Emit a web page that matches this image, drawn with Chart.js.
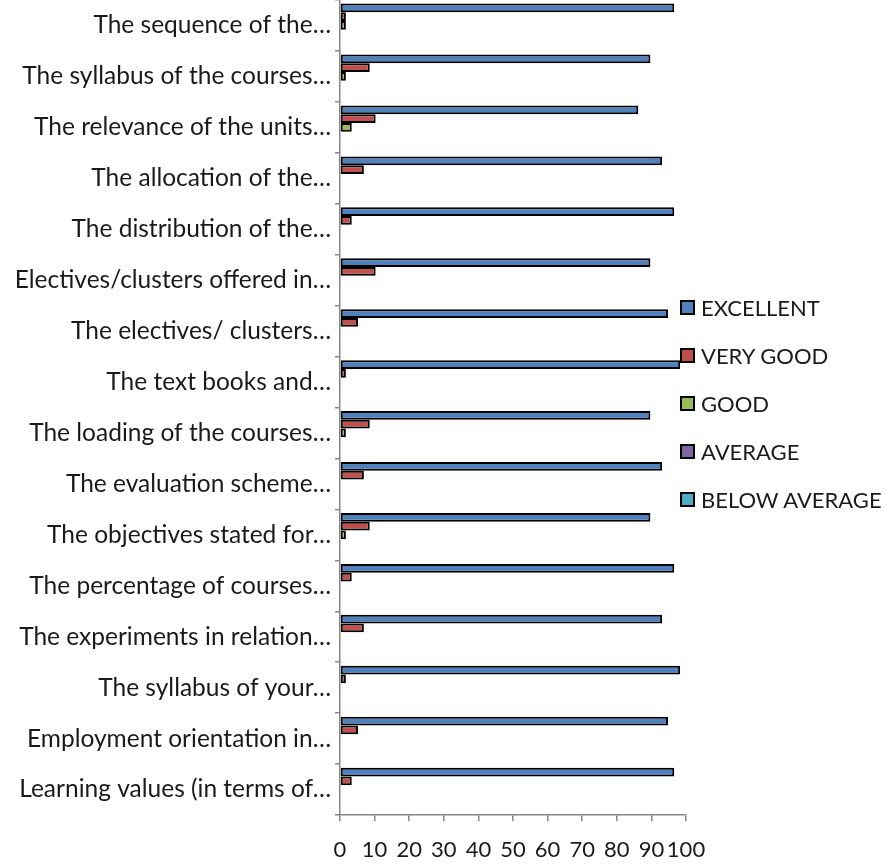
<!DOCTYPE html>
<html>
<head>
<meta charset="utf-8">
<script src="https://cdn.jsdelivr.net/npm/chart.js@4.4.1/dist/chart.umd.min.js"></script>
<style>
  body { margin: 0; background: #fff; }
  .wrap { position: relative; width: 893px; height: 864px; }
  #legend { position: absolute; left: 680px; top: 294px; font-family: Lato, sans-serif; font-size: 22px; color: #1a1a1a; }
  #legend div { height: 48px; display: flex; align-items: flex-start; }
  #legend span.box { display: inline-block; width: 11px; height: 11px; border: 2px solid #000; margin: 6px 6px 0 0; }
</style>
</head>
<body>
<div class="wrap">
  <canvas id="myChart" width="893" height="864"></canvas>
  <div id="legend"></div>
</div>
<script>
const questions = [
  "The sequence of the…",
  "The syllabus of the courses…",
  "The relevance of the units…",
  "The allocation of the…",
  "The distribution of the…",
  "Electives/clusters offered in…",
  "The electives/ clusters…",
  "The text books and…",
  "The loading of the courses…",
  "The evaluation scheme…",
  "The objectives stated for…",
  "The percentage of courses…",
  "The experiments in relation…",
  "The syllabus of your…",
  "Employment orientation in…",
  "Learning values (in terms of…"
];

const excellent = [96.6, 89.7, 86.2, 93.1, 96.6, 89.7, 94.8, 98.3, 89.7, 93.1, 89.7, 96.6, 93.1, 98.3, 94.8, 96.6];
const veryGood  = [1.7, 8.6, 10.3, 6.9, 3.4, 10.3, 5.2, 1.7, 8.6, 6.9, 8.6, 3.4, 6.9, 1.7, 5.2, 3.4];
const good      = [1.7, 1.7, 3.4, 0, 0, 0, 0, 0, 1.7, 0, 1.7, 0, 0, 0, 0, 0];
const average   = [0, 0, 0, 0, 0, 0, 0, 0, 0, 0, 0, 0, 0, 0, 0, 0];
const belowAvg  = [0, 0, 0, 0, 0, 0, 0, 0, 0, 0, 0, 0, 0, 0, 0, 0];

const seriesNames = ["EXCELLENT", "VERY GOOD", "GOOD", "AVERAGE", "BELOW AVERAGE"];
const seriesData = [excellent, veryGood, good, average, belowAvg];
const colors = ["#4F81BD", "#C0504D", "#9BBB59", "#8064A2", "#4BACC6"];

const axisGrey = "#868686";

const datasets = seriesNames.map((name, i) => ({
  label: name,
  data: seriesData[i],
  backgroundColor: colors[i],
  borderColor: "#000",
  borderWidth: 2,
  borderSkipped: false,
  categoryPercentage: 0.86,
  barPercentage: 1
}));

new Chart(document.getElementById("myChart"), {
  type: "bar",
  data: { labels: questions, datasets: datasets },
  options: {
    indexAxis: "y",
    responsive: false,
    animation: false,
    layout: { padding: { top: 0, left: 0, right: 207, bottom: 0 } },
    plugins: { legend: { display: false }, tooltip: { enabled: false } },
    scales: {
      x: {
        min: 0,
        max: 100,
        border: { color: axisGrey, width: 1.5 },
        grid: { drawOnChartArea: false, drawTicks: true, tickLength: 6, color: axisGrey, lineWidth: 1.5 },
        ticks: { stepSize: 10, autoSkip: false, maxRotation: 0, minRotation: 0, padding: 16, color: "#1a1a1a",
                 font: { family: "Lato, sans-serif", size: 22 } },
        afterFit(scale) { scale.height = 49; }
      },
      y: {
        border: { color: axisGrey, width: 1.5 },
        grid: { drawOnChartArea: false, drawTicks: true, tickLength: 5, color: axisGrey, lineWidth: 1.5 },
        ticks: { autoSkip: false, padding: 4, color: "#1a1a1a",
                 font: { family: "Lato, sans-serif", size: 24.5 } },
        afterFit(scale) {
          scale.width = 340;
          scale.paddingTop = 0;
          scale.paddingBottom = 0;
        }
      }
    }
  }
});

const legend = document.getElementById("legend");
seriesNames.forEach((name, i) => {
  const row = document.createElement("div");
  const box = document.createElement("span");
  box.className = "box";
  box.style.background = colors[i];
  row.appendChild(box);
  row.appendChild(document.createTextNode(name));
  legend.appendChild(row);
});
</script>
</body>
</html>
